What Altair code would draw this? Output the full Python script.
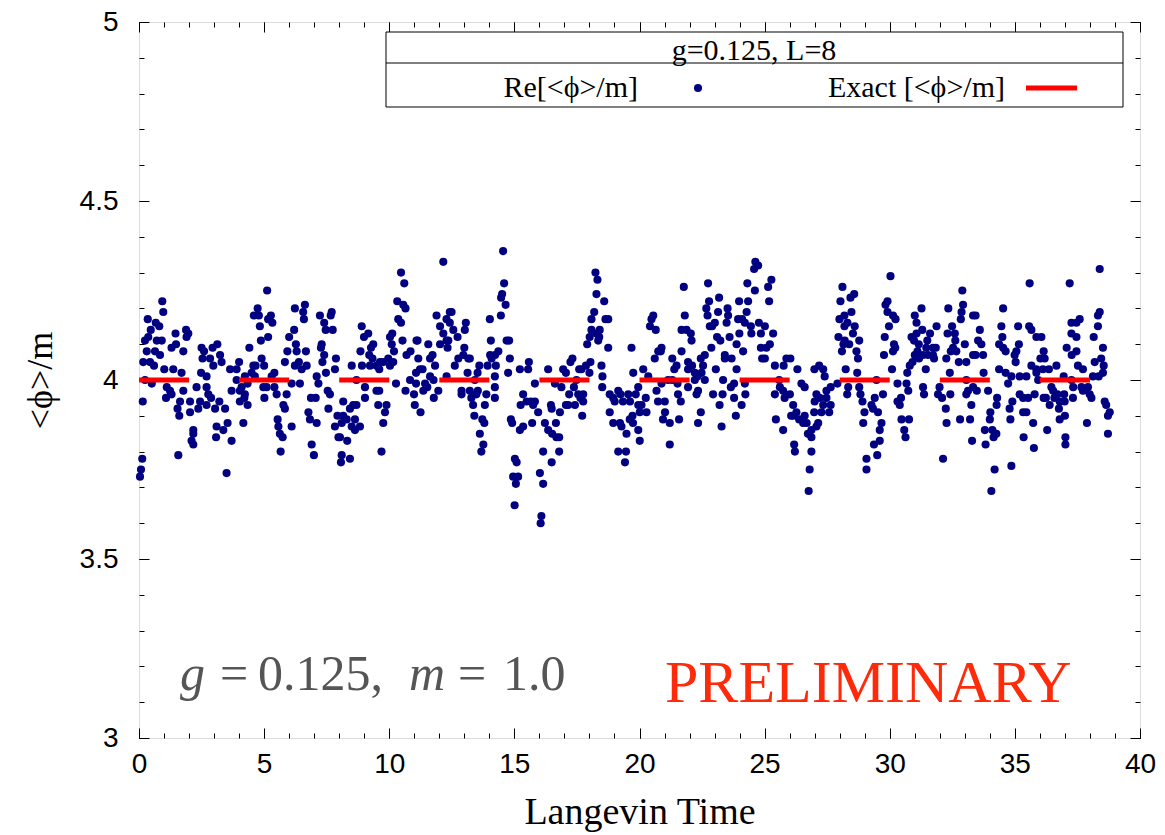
import altair as alt
import pandas as pd

# ---- scatter values (Langevin time, Re[<phi>/m]) ----
pts_0_4 = [(0.93,4.22),(0.97,4.19),(0.35,4.17),(0.67,4.16),(0.81,4.15),(0.47,4.14),(1.46,4.13),(1.88,4.14),(1.97,4.13),(1.90,4.12),(0.24,4.11),(0.37,4.12),(0.71,4.11),(0.91,4.11),(1.48,4.10),(1.30,4.09),(1.77,4.08),(0.31,4.08),(0.64,4.08),(0.84,4.07),(0.17,4.05),(0.44,4.05),(0.60,4.04),(1.01,4.03),(1.37,4.03),(1.70,4.02),(2.50,4.09),(2.60,4.08),(3.13,4.10),(2.94,4.09),(3.24,4.07),(2.84,4.06),(2.54,4.06),(2.97,4.04),(3.30,4.05),(3.64,4.03),(3.90,4.03),(2.48,4.02),(2.70,4.01),(0.24,4.00),(0.51,3.99),(1.11,3.98),(1.24,3.97),(1.30,3.96),(1.77,3.97),(2.30,3.98),(2.70,3.98),(3.90,4.00),(3.70,3.97),(2.77,3.96),(2.88,3.95),(2.44,3.94),(2.04,3.94),(1.64,3.94),(1.08,3.95),(0.15,3.94),(3.21,3.94),(2.70,3.93),(3.04,3.92),(3.44,3.92),(2.37,3.92),(2.04,3.91),(1.54,3.92),(1.61,3.90),(3.54,3.88),(3.10,3.87),(3.37,3.86),(2.17,3.86),(2.17,3.85),(3.08,3.84),(3.70,3.83),(2.10,3.83),(2.17,3.82),(1.57,3.79),(0.13,3.78),(0.08,3.75),(0.04,3.73),(3.50,3.74)]
pts_4_8 = [(5.12,4.25),(4.74,4.20),(4.59,4.18),(4.79,4.18),(5.27,4.18),(5.16,4.17),(5.33,4.16),(4.83,4.15),(5.16,4.12),(4.87,4.11),(4.41,4.09),(4.90,4.06),(4.00,4.05),(4.57,4.04),(4.66,4.04),(5.00,4.04),(4.50,4.02),(4.23,4.01),(4.63,4.01),(5.41,4.02),(5.30,4.01),(4.34,3.99),(4.10,3.98),(4.03,3.97),(4.97,3.98),(5.10,3.98),(5.41,3.98),(5.50,3.96),(5.90,3.96),(5.01,3.95),(4.23,3.96),(4.21,3.95),(4.03,3.94),(4.34,3.93),(4.17,3.88),(5.54,3.89),(5.77,3.93),(5.83,3.92),(5.57,3.87),(5.63,3.85),(5.74,3.84),(5.66,3.80),(6.10,3.87),(6.23,4.20),(6.63,4.21),(6.56,4.19),(6.59,4.17),(6.20,4.14),(6.00,4.12),(6.27,4.10),(6.30,4.08),(5.93,4.08),(6.67,4.08),(5.83,4.05),(6.23,4.04),(6.39,4.05),(6.50,4.03),(6.70,4.04),(6.10,3.99),(6.43,3.99),(7.10,4.01),(7.17,3.99),(7.47,4.02),(7.23,4.18),(7.40,4.16),(7.70,4.19),(7.66,4.18),(7.46,4.14),(7.74,4.14),(7.30,4.10),(7.27,4.09),(7.40,4.07),(7.33,4.05),(7.87,4.06),(7.83,4.03),(6.87,3.95),(7.06,3.95),(6.77,3.91),(6.83,3.89),(7.10,3.88),(7.54,3.97),(7.63,3.96),(7.57,3.92),(8.16,3.94),(7.93,3.90),(8.10,3.88),(7.83,3.87),(7.97,3.84),(6.90,3.82),(6.99,3.79),(8.10,3.79),(8.07,3.77)]
pts_8_12 = [(12.16,4.33),(10.47,4.30),(10.60,4.27),(10.32,4.22),(10.56,4.21),(10.65,4.20),(10.36,4.17),(10.47,4.16),(8.90,4.15),(9.16,4.13),(8.99,4.12),(10.12,4.13),(10.03,4.12),(10.53,4.11),(11.13,4.11),(11.09,4.11),(9.36,4.10),(9.27,4.09),(10.10,4.10),(10.19,4.08),(8.85,4.08),(9.20,4.07),(9.33,4.06),(9.96,4.06),(10.69,4.07),(10.85,4.08),(11.56,4.10),(11.89,4.18),(12.03,4.15),(12.29,4.17),(12.16,4.13),(12.36,4.11),(12.03,4.10),(11.73,4.07),(11.63,4.06),(11.16,4.06),(11.83,4.04),(8.91,4.04),(8.50,4.04),(9.23,4.04),(9.49,4.04),(9.63,4.05),(9.76,4.05),(10.03,4.04),(10.16,4.05),(9.60,4.03),(11.23,4.03),(11.33,4.03),(11.07,4.02),(10.83,4.00),(11.07,3.99),(11.43,3.99),(11.63,4.01),(11.77,4.00),(11.52,3.98),(11.36,3.97),(11.96,3.97),(11.78,3.95),(12.29,4.01),(8.69,4.00),(10.27,3.99),(9.03,3.98),(9.49,3.97),(9.60,3.97),(10.65,3.97),(10.99,3.96),(9.03,3.95),(8.69,3.93),(8.56,3.93),(8.43,3.92),(9.56,3.93),(9.89,3.93),(9.83,3.91),(11.02,3.93),(11.25,3.91),(8.16,3.90),(8.30,3.89),(8.63,3.89),(8.83,3.87),(8.50,3.87),(8.63,3.86),(8.03,3.84),(8.32,3.83),(9.76,3.88),(9.69,3.80),(8.43,3.78)]
pts_12_16 = [(14.55,4.36),(14.59,4.27),(14.51,4.24),(14.47,4.23),(14.65,4.21),(12.42,4.19),(12.49,4.19),(12.42,4.16),(12.56,4.14),(13.06,4.16),(13.02,4.14),(14.02,4.17),(14.46,4.18),(12.73,4.12),(12.29,4.11),(12.33,4.09),(14.06,4.11),(14.69,4.11),(14.79,4.11),(13.00,4.09),(12.96,4.07),(13.16,4.06),(13.22,4.06),(12.76,4.06),(12.62,4.04),(14.03,4.07),(14.23,4.07),(14.36,4.08),(14.09,4.06),(14.82,4.06),(13.60,4.04),(13.93,4.04),(14.26,4.04),(13.13,4.02),(13.53,4.02),(14.75,4.02),(15.22,4.03),(15.58,4.05),(15.55,4.03),(15.82,3.99),(16.35,4.03),(14.22,4.01),(13.42,4.00),(12.89,3.97),(12.89,3.96),(13.22,3.97),(13.28,3.95),(13.48,3.96),(13.54,3.97),(13.35,3.93),(13.88,3.96),(13.82,3.93),(14.22,3.98),(14.22,3.95),(15.35,3.96),(15.25,3.93),(15.49,3.94),(15.66,3.94),(15.75,3.93),(15.82,3.94),(15.95,3.91),(15.71,3.88),(16.46,3.93),(16.49,3.92),(16.22,3.88),(16.35,3.86),(16.51,3.85),(13.40,3.90),(13.72,3.89),(13.80,3.88),(14.86,3.89),(14.91,3.88),(15.35,3.87),(15.22,3.86),(13.62,3.85),(13.76,3.82),(13.68,3.80),(15.02,3.78),(15.09,3.77),(14.95,3.73),(15.15,3.73),(15.06,3.71),(16.15,3.80),(16.49,3.77),(16.02,3.74),(16.15,3.71),(15.01,3.65),(16.08,3.62),(16.05,3.60)]
pts_16_20 = [(18.24,4.30),(18.32,4.28),(18.28,4.24),(18.59,4.22),(18.19,4.19),(18.08,4.17),(18.64,4.17),(18.75,4.17),(18.08,4.14),(18.41,4.14),(18.28,4.13),(18.39,4.12),(18.01,4.12),(17.91,4.10),(18.35,4.11),(18.75,4.09),(19.68,4.09),(17.32,4.06),(17.24,4.05),(16.95,4.03),(17.06,4.02),(17.68,4.03),(17.86,4.04),(18.04,4.05),(17.59,4.03),(18.48,4.04),(18.00,4.02),(17.48,4.00),(18.52,4.01),(16.62,3.99),(16.88,3.98),(17.38,3.98),(17.19,3.96),(18.51,3.98),(19.75,4.02),(20.15,4.03),(20.61,4.06),(20.75,4.08),(20.48,4.17),(20.55,4.18),(20.42,4.15),(20.65,4.14),(20.35,4.01),(17.55,3.96),(17.75,3.96),(17.64,3.95),(17.75,3.94),(17.42,3.93),(17.15,3.93),(17.06,3.93),(16.82,3.91),(17.71,3.90),(16.66,3.88),(16.68,3.84),(16.79,3.84),(16.79,3.80),(18.81,3.96),(18.95,3.95),(19.15,3.97),(19.24,3.96),(19.55,3.96),(19.62,3.94),(19.01,3.94),(19.34,3.94),(19.85,3.96),(19.95,3.98),(19.95,3.93),(20.08,3.93),(20.25,3.95),(20.01,3.91),(20.28,3.91),(20.74,3.94),(18.81,3.91),(19.72,3.90),(19.74,3.88),(19.61,3.89),(18.95,3.88),(19.22,3.88),(19.28,3.87),(19.48,3.85),(19.95,3.86),(20.01,3.83),(19.15,3.80),(19.46,3.80),(19.42,3.77)]
pts_20_25 = [(24.63,4.33),(24.58,4.31),(24.74,4.32),(24.31,4.27),(24.61,4.25),(22.74,4.27),(21.77,4.26),(22.78,4.22),(22.67,4.20),(23.18,4.23),(23.14,4.19),(23.52,4.20),(23.54,4.18),(23.98,4.22),(24.34,4.22),(24.28,4.19),(22.72,4.18),(23.01,4.16),(22.90,4.15),(22.81,4.15),(23.48,4.16),(23.94,4.17),(24.10,4.17),(24.21,4.16),(24.77,4.16),(24.45,4.15),(23.99,4.13),(23.60,4.12),(24.47,4.13),(24.85,4.13),(21.81,4.18),(21.68,4.14),(21.88,4.14),(22.05,4.13),(22.08,4.11),(23.10,4.12),(23.23,4.11),(20.88,4.09),(20.85,4.08),(21.68,4.08),(21.31,4.06),(21.48,4.04),(21.39,4.03),(22.87,4.09),(22.61,4.07),(22.45,4.06),(23.41,4.07),(23.41,4.06),(23.68,4.06),(23.88,4.10),(24.14,4.08),(24.85,4.09),(24.90,4.06),(21.94,4.05),(22.10,4.04),(21.94,4.03),(22.21,4.02),(22.54,4.04),(22.48,4.02),(23.05,4.03),(23.88,4.03),(22.61,4.00),(22.31,4.01),(22.21,4.00),(21.94,3.98),(23.34,4.00),(21.14,4.00),(21.31,4.00),(20.88,3.99),(21.52,3.99),(20.68,3.97),(21.01,3.94),(21.54,3.96),(21.65,3.94),(22.34,3.97),(22.28,3.96),(23.65,3.98),(23.78,3.99),(24.21,3.99),(24.23,3.96),(22.94,3.96),(23.32,3.96),(23.78,3.95),(23.20,3.93),(24.08,3.93),(21.02,3.91),(22.45,3.91),(23.85,3.90),(20.94,3.89),(21.21,3.88),(21.58,3.89),(22.34,3.88),(23.28,3.87),(21.21,3.82)]
pts_25_29 = [(25.27,4.28),(25.14,4.26),(25.18,4.22),(25.01,4.15),(25.34,4.13),(25.21,4.10),(25.07,4.09),(25.01,4.06),(25.41,4.04),(25.87,4.06),(26.03,4.06),(25.76,4.04),(26.31,4.03),(27.18,4.04),(27.34,4.03),(27.40,4.01),(26.99,4.03),(26.47,3.99),(26.60,3.98),(25.58,4.00),(25.61,3.98),(25.41,3.96),(25.74,3.97),(26.01,3.96),(25.80,3.95),(26.14,3.93),(27.07,3.96),(27.20,3.95),(27.47,3.95),(27.64,3.98),(27.91,3.99),(27.47,3.97),(27.00,3.94),(27.64,3.93),(27.34,3.93),(26.98,3.91),(27.27,3.91),(27.58,3.91),(26.06,3.90),(26.27,3.91),(26.60,3.90),(26.14,3.90),(26.38,3.89),(26.68,3.88),(25.45,3.89),(25.74,3.86),(26.54,3.88),(27.14,3.88),(27.07,3.87),(26.87,3.86),(26.73,3.85),(26.87,3.84),(26.18,3.82),(26.21,3.80),(26.87,3.80),(26.80,3.75),(26.76,3.69),(28.11,4.26),(28.58,4.24),(28.43,4.23),(28.03,4.22),(28.47,4.19),(28.19,4.18),(27.99,4.17),(28.31,4.16),(28.19,4.15),(28.60,4.15),(27.95,4.12),(28.53,4.13),(28.78,4.11),(28.20,4.11),(28.38,4.10),(28.15,4.10),(28.09,4.08),(28.67,4.08),(28.73,4.06),(28.24,4.03),(28.70,4.02),(28.34,3.98),(28.30,3.96),(28.78,3.98),(28.83,3.96),(28.91,3.94),(28.99,3.91),(28.94,3.88),(29.07,3.78),(29.07,3.75)]
pts_29_33 = [(30.03,4.29),(29.91,4.22),(29.83,4.21),(29.91,4.19),(30.13,4.18),(30.23,4.17),(29.97,4.15),(29.80,4.12),(29.77,4.07),(30.17,4.10),(30.22,4.09),(30.13,4.08),(30.09,4.03),(31.27,4.20),(31.00,4.18),(31.07,4.16),(31.30,4.14),(30.87,4.12),(31.07,4.13),(30.97,4.11),(31.50,4.11),(31.61,4.13),(31.87,4.15),(31.16,4.10),(31.46,4.09),(31.73,4.09),(31.84,4.09),(31.11,4.08),(31.33,4.07),(31.53,4.07),(31.73,4.07),(31.00,4.07),(30.91,4.05),(30.80,4.04),(30.70,4.02),(31.17,4.06),(31.44,4.03),(31.77,4.06),(32.34,4.20),(32.90,4.25),(32.93,4.21),(32.87,4.19),(32.84,4.17),(32.49,4.15),(32.31,4.13),(32.60,4.13),(32.62,4.11),(33.00,4.10),(33.33,4.18),(32.53,4.09),(32.66,4.08),(32.44,4.08),(32.26,4.06),(32.76,4.05),(33.06,4.05),(33.33,4.07),(32.40,4.02),(31.99,3.98),(31.93,3.96),(32.09,3.95),(32.42,3.96),(33.06,4.00),(33.13,3.97),(33.06,3.96),(33.26,3.93),(31.33,3.98),(31.37,3.96),(29.47,4.00),(29.73,3.96),(30.31,3.99),(30.67,3.99),(30.74,3.97),(30.45,3.95),(30.31,3.94),(30.40,3.93),(29.40,3.95),(29.27,3.93),(29.33,3.92),(29.53,3.91),(29.67,3.88),(29.60,3.86),(30.47,3.89),(30.77,3.89),(30.58,3.86),(30.63,3.84),(32.24,3.92),(32.27,3.88),(32.81,3.89),(33.21,3.89),(33.29,3.83),(29.60,3.83),(29.37,3.82),(29.50,3.79),(32.13,3.78)]
pts_33_37 = [(35.59,4.27),(37.19,4.27),(34.53,4.20),(33.43,4.18),(33.60,4.14),(34.46,4.15),(34.50,4.12),(35.13,4.15),(35.57,4.15),(35.66,4.14),(35.86,4.12),(36.06,4.12),(37.26,4.16),(37.46,4.16),(37.26,4.13),(37.46,4.12),(33.53,4.11),(33.66,4.10),(34.37,4.10),(34.53,4.09),(34.63,4.08),(35.16,4.10),(35.06,4.08),(36.15,4.08),(37.07,4.09),(37.27,4.07),(37.46,4.08),(33.43,4.07),(33.73,4.07),(34.99,4.07),(35.03,4.05),(36.02,4.06),(36.19,4.06),(35.66,4.04),(36.66,4.04),(37.52,4.04),(33.75,4.02),(34.37,4.03),(34.63,4.02),(34.86,4.01),(35.19,4.01),(35.46,4.01),(35.86,4.03),(35.86,4.02),(36.12,4.03),(36.36,4.03),(35.93,4.00),(34.73,3.99),(36.95,4.01),(33.33,3.98),(33.48,3.97),(33.93,3.97),(36.46,3.98),(36.53,3.97),(37.26,4.00),(37.33,3.98),(34.29,3.95),(34.27,3.93),(34.90,3.94),(35.19,3.96),(35.33,3.95),(35.53,3.95),(35.79,3.96),(36.15,3.95),(36.24,3.95),(36.39,3.93),(36.58,3.95),(36.70,3.96),(36.97,3.96),(36.99,3.94),(36.79,3.94),(34.79,3.92),(35.33,3.91),(35.46,3.91),(34.02,3.91),(36.76,3.92),(37.00,3.90),(36.79,3.89),(34.00,3.89),(34.82,3.89),(35.73,3.88),(33.80,3.86),(34.10,3.86),(34.26,3.85),(34.15,3.84),(36.29,3.86),(33.83,3.82),(35.35,3.84),(35.76,3.81),(37.02,3.84),(37.02,3.82),(34.19,3.75),(34.86,3.76),(34.06,3.69)]
pts_37_39 = [(38.39,4.31),(38.39,4.19),(38.32,4.18),(37.59,4.17),(38.32,4.15),(38.15,4.12),(38.52,4.09),(38.45,4.06),(38.19,4.05),(38.55,4.04),(37.72,4.03),(38.52,4.02),(38.35,4.01),(38.12,4.01),(37.66,3.98),(37.72,3.97),(37.92,3.98),(37.99,3.96),(37.32,3.95),(38.06,3.95),(38.59,3.94),(38.65,3.93),(38.79,3.91),(38.72,3.90),(37.88,3.88),(38.72,3.85)]

all_pts = pts_0_4 + pts_4_8 + pts_8_12 + pts_12_16 + pts_16_20 + pts_20_25 + pts_25_29 + pts_29_33 + pts_33_37 + pts_37_39
time = [p[0] for p in all_pts]
value = [p[1] for p in all_pts]

# exact value (dashed red line: drawn dash pieces)
exact_value = 4.0
exact_start = [0, 4, 8, 12, 16, 20, 24, 28, 32, 36]
exact_end = [2, 6, 10, 14, 18, 22, 26, 30, 34, 38]

x_major = [0, 5, 10, 15, 20, 25, 30, 35, 40]
x_minor = list(range(0, 41))
y_major = [3.0, 3.5, 4.0, 4.5, 5.0]
y_minor = [3.0, 3.1, 3.2, 3.3, 3.4, 3.5, 3.6, 3.7, 3.8, 3.9, 4.0, 4.1, 4.2, 4.3, 4.4, 4.5, 4.6, 4.7, 4.8, 4.9, 5.0]

W, H = 1001, 716
NAVY = "#000080"
RED = "#ff0000"
SANS = "Liberation Sans"
SERIF = "Liberation Serif"
DOT = 66

xs = alt.Scale(domain=[0, 40], nice=False, zero=False)
ys = alt.Scale(domain=[3, 5], nice=False, zero=False)

df = pd.DataFrame({"time": time, "value": value})
seg_df = pd.DataFrame({"start": exact_start, "end": exact_end, "val": [exact_value] * len(exact_start)})

points = alt.Chart(df).mark_circle(size=DOT, color=NAVY, opacity=1).encode(
    x=alt.X("time:Q", scale=xs, axis=alt.Axis(
        orient="bottom", values=x_major, ticks=False, domain=False, grid=False, labelFlush=False,
        labelFont=SANS, labelFontSize=28, labelPadding=12, labelColor="black",
        title="Langevin Time", titleFont=SERIF, titleFontSize=38, titleFontWeight="normal",
        titleColor="black", titleX=W / 2, titleY=85, titleAlign="center", titleBaseline="alphabetic")),
    y=alt.Y("value:Q", scale=ys, axis=alt.Axis(
        orient="left", values=y_major, format="~g", ticks=False, domain=False, grid=False, labelFlush=False,
        labelFont=SANS, labelFontSize=28, labelPadding=21, labelColor="black",
        title="<ϕ>/m", titleFont=SERIF, titleFontSize=36, titleFontWeight="normal",
        titleColor="black", titleX=-99, titleY=H / 2, titleAlign="center", titleBaseline="middle", titleAngle=270)),
)

segs = alt.Chart(seg_df).mark_rule(color=RED, strokeWidth=5).encode(
    x=alt.X("start:Q", scale=xs, axis=alt.Axis(orient="top", offset=-H, values=x_major, tickSize=10,
                                               labels=False, domain=False, grid=False, title="",
                                               tickColor="black", tickWidth=1)),
    x2="end:Q",
    y=alt.Y("val:Q", scale=ys, axis=alt.Axis(orient="right", offset=-W, values=y_major, tickSize=10,
                                             labels=False, domain=False, grid=False, title="",
                                             tickColor="black", tickWidth=1)),
)


def tick_layer(values, channel, orient, size):
    d = pd.DataFrame({"v": values})
    ax = alt.Axis(orient=orient, offset=-(H if channel == "x" else W), values=values, tickSize=size,
                  labels=False, domain=False, grid=False, title="", tickColor="black", tickWidth=1)
    base = alt.Chart(d).mark_point(opacity=0)
    if channel == "x":
        return base.encode(x=alt.X("v:Q", scale=xs, axis=ax))
    return base.encode(y=alt.Y("v:Q", scale=ys, axis=ax))


ticks = [
    tick_layer(x_major, "x", "bottom", 10),
    tick_layer(x_minor, "x", "top", 5),
    tick_layer(x_minor, "x", "bottom", 5),
    tick_layer(y_major, "y", "left", 10),
    tick_layer(y_minor, "y", "right", 5),
    tick_layer(y_minor, "y", "left", 5),
]


def label(txt, x, y, size, color="black", align="left", font=SERIF, style="normal"):
    return alt.Chart(pd.DataFrame({"t": [txt]})).mark_text(
        align=align, baseline="alphabetic", font=font, fontSize=size, color=color, fontStyle=style
    ).encode(x=alt.value(x), y=alt.value(y), text="t:N")


one = pd.DataFrame({"k": [0]})
legend_box = alt.Chart(one).mark_rect(fill="white", stroke="black", strokeWidth=1).encode(
    x=alt.value(247), x2=alt.value(984), y=alt.value(10), y2=alt.value(85))
legend_div = alt.Chart(one).mark_rule(color="black", strokeWidth=1).encode(
    x=alt.value(247), x2=alt.value(984), y=alt.value(41))
legend_dot = alt.Chart(one).mark_circle(size=DOT, color=NAVY, opacity=1).encode(
    x=alt.value(559), y=alt.value(66))
legend_line = alt.Chart(one).mark_rule(color=RED, strokeWidth=5).encode(
    x=alt.value(887), x2=alt.value(938), y=alt.value(66))

GRAY = "#555555"
texts = [
    label("g=0.125, L=8", 615, 38, 30, align="center"),
    label("Re[<ϕ>/m]", 499, 75, 30, align="right"),
    label("Exact [<ϕ>/m]", 866, 75, 30, align="right"),
    label("g", 41, 668, 50, color=GRAY, style="italic"),
    label("=", 81, 668, 50, color=GRAY),
    label("0.125,", 119, 668, 50, color=GRAY),
    label("m", 270, 668, 50, color=GRAY, style="italic"),
    label("=", 319, 668, 50, color=GRAY),
    label("1.0", 364, 668, 50, color=GRAY),
    label("PRELIMINARY", 526, 680, 60, color="#ff2a0a"),
]

chart = alt.layer(
    points, segs, *ticks, legend_box, legend_div, legend_dot, legend_line, *texts
).resolve_scale(x="shared", y="shared").resolve_axis(x="independent", y="independent").properties(
    width=W, height=H,
    autosize=alt.AutoSizeParams(type="none"),
    padding={"left": 139, "top": 22, "right": 25, "bottom": 97},
).configure_view(stroke="black", strokeWidth=2).configure(background="white")

chart.save("out.html", embed_options={"renderer": "svg", "actions": False})
